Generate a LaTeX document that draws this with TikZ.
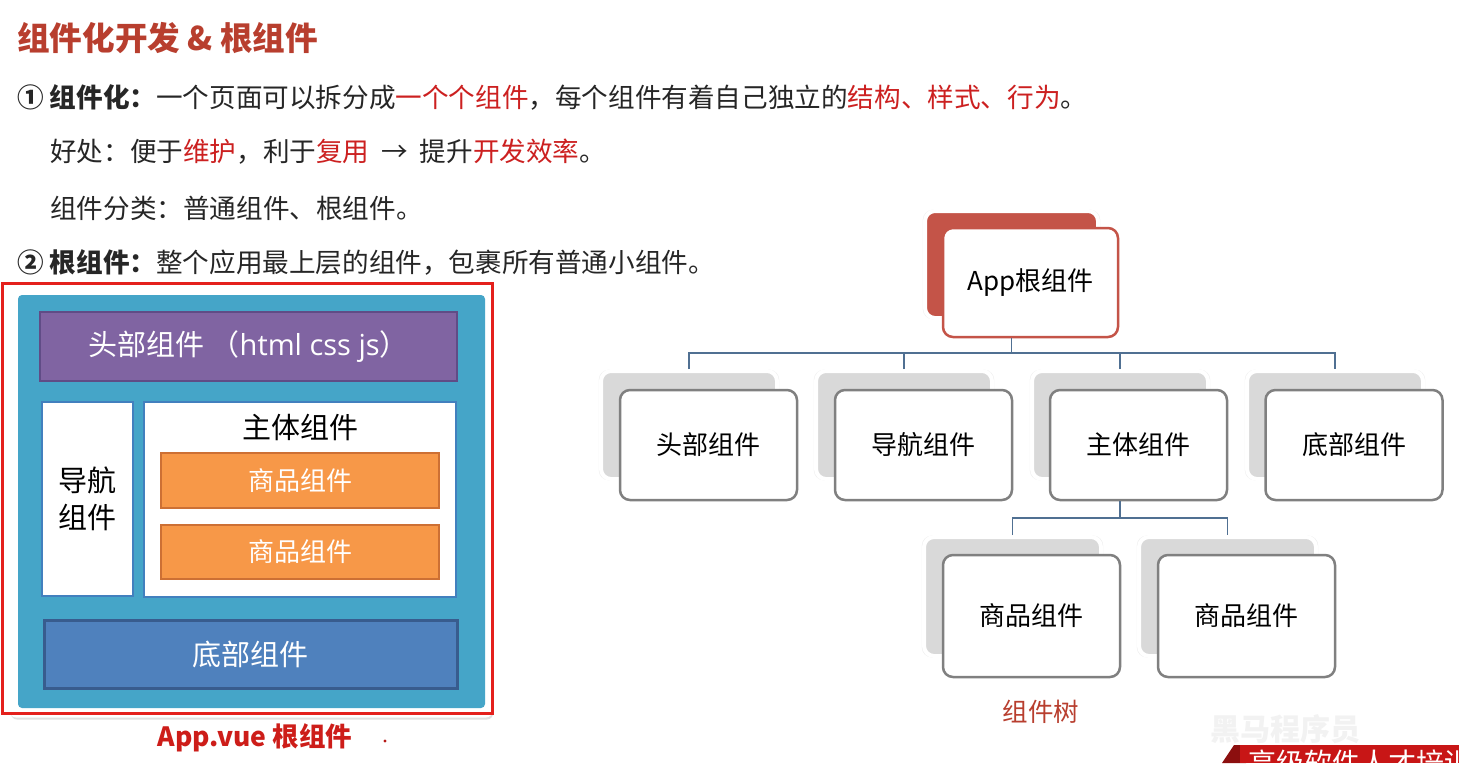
\documentclass[tikz,border=0pt]{standalone}
\usepackage{fontspec}
\setmainfont{Noto Sans CJK SC}
\newfontfamily\latinsans{Open Sans}
\usetikzlibrary{shadows}
\definecolor{titlered}{RGB}{184,62,46}
\definecolor{wordred}{RGB}{204,32,32}
\definecolor{bodytext}{RGB}{38,38,38}
\definecolor{framered}{RGB}{228,32,28}
\definecolor{appblue}{RGB}{69,165,200}
\definecolor{hdrpurple}{RGB}{128,100,162}
\definecolor{hdrborder}{RGB}{96,76,134}
\definecolor{navborder}{RGB}{66,128,190}
\definecolor{goodsorange}{RGB}{247,152,72}
\definecolor{goodsborder}{RGB}{205,112,52}
\definecolor{footblue}{RGB}{79,129,189}
\definecolor{footborder}{RGB}{56,92,142}
\definecolor{rootred}{RGB}{196,84,72}
\definecolor{connblue}{RGB}{80,112,146}
\definecolor{boxgray}{RGB}{128,128,128}
\definecolor{backgray}{RGB}{217,217,217}
\definecolor{bannerred}{RGB}{200,22,22}
\begin{document}
\begin{tikzpicture}[x=1pt,y=-1pt,
  txt/.style={anchor=west, inner sep=0pt, text=bodytext, font=\fontsize{26.6}{30}\selectfont},
  leftbox/.style={rectangle, inner sep=0pt},
  backbox/.style={rectangle, rounded corners=10pt, fill=backgray, draw=white, line width=4pt,
     drop shadow={opacity=0.15, shadow xshift=0pt, shadow yshift=0pt, shadow scale=1.025}},
  frontbox/.style={rectangle, rounded corners=10pt, fill=white, draw=boxgray, line width=2.5pt,
     font=\fontsize{26}{30}\selectfont, text=black, inner sep=0pt},
  conn/.style={draw=connblue, line width=1.3pt}
]
\useasboundingbox (0,0) rectangle (1459,763);
\fill[white] (0,0) rectangle (1459,763);

% ---------- texts ----------
\node[anchor=west, inner sep=0pt, text=titlered, font=\fontsize{32.6}{36}\selectfont\bfseries] (title) at (17,38) {组件化开发 \& 根组件};
\node[txt] (l1) at (17,97) {{\bfseries ① 组件化：}一个页面可以拆分成\textcolor{wordred}{一个个组件}，每个组件有着自己独立的\textcolor{wordred}{结构、样式、行为}。};
\node[txt] (l2) at (50,152) {好处：便于\textcolor{wordred}{维护}，利于\textcolor{wordred}{复用}\ \ → \ 提升\textcolor{wordred}{开发效率}。};
\node[txt] (l3) at (50,208) {组件分类：普通组件、根组件。};
\node[txt] (l4) at (17,262) {{\bfseries ② 根组件：}整个应用最上层的组件，包裹所有普通小组件。};

% ---------- left diagram ----------
\node[leftbox, fill=white, rounded corners=6pt, minimum width=482, minimum height=430,
      drop shadow={opacity=0.25, shadow xshift=1pt, shadow yshift=-2pt}] (card) at (251,502.5) {};
\node[leftbox, fill=appblue, rounded corners=4pt, minimum width=467, minimum height=413] (app) at (251.5,501.5) {};
\node[leftbox, fill=hdrpurple, draw=hdrborder, line width=2.5pt, minimum width=417, minimum height=69,
      text=white, font=\fontsize{29}{30}\selectfont] (hdr) at (248.5,346.5) {头部组件 （{\latinsans html css js}）};
\node[leftbox, fill=white, draw=navborder, line width=2pt, minimum width=91, minimum height=194,
      align=center, font=\fontsize{29}{37}\selectfont, text=black] (nav) at (87.5,499) {导航\\组件};
\node[leftbox, fill=white, draw=navborder, line width=2pt, minimum width=312, minimum height=195] (main) at (300,499.5) {};
\node[inner sep=0pt, font=\fontsize{29}{34}\selectfont, text=black] (maintitle) at (300,427) {主体组件};
\node[leftbox, fill=goodsorange, draw=goodsborder, line width=2pt, minimum width=278, minimum height=55,
      text=white, font=\fontsize{26}{30}\selectfont] (g1) at (300,480.5) {商品组件};
\node[leftbox, fill=goodsorange, draw=goodsborder, line width=2pt, minimum width=278, minimum height=54,
      text=white, font=\fontsize{26}{30}\selectfont] (g2) at (300,552) {商品组件};
\node[leftbox, fill=footblue, draw=footborder, line width=3pt, minimum width=413, minimum height=68,
      text=white, font=\fontsize{29}{34}\selectfont] (foot) at (250.5,654) {底部组件};
\node[leftbox, draw=framered, line width=3pt, minimum width=490, minimum height=430] (frame) at (247,498) {};
\node[inner sep=0pt, text=framered!90!black, font=\fontsize{26.5}{30}\selectfont\bfseries] (applabel) at (255,738) {App.vue 根组件};
\fill[framered!80!black] (385,741) circle (1.6pt);

% ---------- component tree ----------
\node[backbox, fill=rootred, minimum width=173, minimum height=107] (appb) at (1011.5,264.5) {};
\node[frontbox, draw=rootred, minimum width=175, minimum height=109] (appf) at (1030.5,282.5) {App根组件};

\node[backbox, minimum width=176, minimum height=108] (hb) at (689,425) {};
\node[backbox, minimum width=176, minimum height=108] (nb) at (904,425) {};
\node[backbox, minimum width=176, minimum height=108] (zb) at (1120,425) {};
\node[backbox, minimum width=176, minimum height=108] (db) at (1335,425) {};

\coordinate (bus) at (1011.5,353);
\draw[conn] (appb.south |- appf.south) -- (bus);
\draw[conn] (hb.north) |- (bus) -| (db.north);
\draw[conn] (nb.north) -- (nb.north |- bus);
\draw[conn] (zb.north) -- (zb.north |- bus);

\node[frontbox, minimum width=177, minimum height=110] (hf) at (708.5,445) {头部组件};
\node[frontbox, minimum width=177, minimum height=110] (nf) at (923.5,445) {导航组件};
\node[frontbox, minimum width=177, minimum height=110] (zf) at (1138.5,445) {主体组件};
\node[frontbox, minimum width=177, minimum height=110] (df) at (1354,445) {底部组件};

\node[backbox, minimum width=177, minimum height=119] (s1b) at (1012.5,596.5) {};
\node[backbox, minimum width=177, minimum height=119] (s2b) at (1227.5,596.5) {};
\coordinate (bus2) at (1120,518);
\draw[conn] (zb.south |- zf.south) -- (bus2);
\draw[conn] (s1b.north) |- (bus2) -| (s2b.north);
\node[frontbox, minimum width=177, minimum height=122] (s1f) at (1031.5,616) {商品组件};
\node[frontbox, minimum width=177, minimum height=122] (s2f) at (1246.5,616) {商品组件};

\node[inner sep=0pt, text=titlered, font=\fontsize{25.5}{30}\selectfont] (treelabel) at (1041,712) {组件树};

% ---------- watermark ----------
\node[anchor=west, inner sep=0pt, text=gray!10, font=\fontsize{30}{34}\selectfont\bfseries] (wm) at (1210,729) {黑马程序员};
\fill[bannerred!70!black] (1222,763) -- (1234,745) -- (1246,745) -- (1246,763) -- cycle;
\fill[bannerred] (1240,745) rectangle (1459,763);
\node[anchor=north west, inner sep=0pt, text=white, font=\fontsize{28}{32}\selectfont] (banner) at (1248,750) {高级软件人才培训};
\end{tikzpicture}
\end{document}
